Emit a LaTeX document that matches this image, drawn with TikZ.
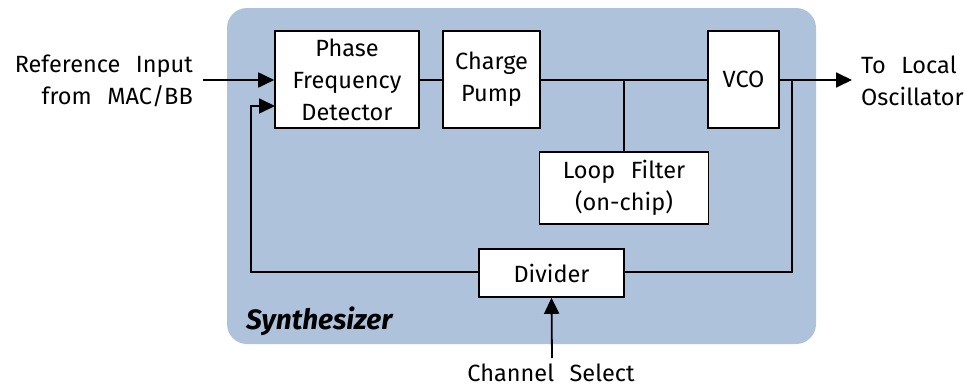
\documentclass[tikz,border=0pt]{standalone}
\usepackage{fontspec}
\setmainfont[WordSpace=2.5]{Fira Sans}
\usetikzlibrary{arrows.meta}
\definecolor{synthblue}{HTML}{AEC2DB}
\tikzset{
  txt/.style={font=\fontsize{23.5}{32}\selectfont},
  blk/.style={txt, draw=black, line width=1.6pt, fill=white, inner sep=0pt, align=center},
  wire/.style={line width=1.8pt},
  arr/.style={wire, -{Triangle[length=16pt,width=15pt]}},
  lbl/.style={txt, inner sep=0pt}
}
\begin{document}
\begin{tikzpicture}[x=1pt,y=-1pt]
\useasboundingbox (0,0) rectangle (967,386);
\node[fill=synthblue, rounded corners=20pt, minimum width=589pt, minimum height=336pt, inner sep=0pt] (syn) at (521.5,176) {};
\node[blk, minimum width=144pt, minimum height=97pt] (pfd) at (347,79.5) {Phase\\Frequency\\Detector};
\node[blk, minimum width=97pt, minimum height=97pt] (cp) at (491.5,79.5) {Charge\\Pump};
\node[blk, minimum width=71pt, minimum height=97pt] (vco) at (743.5,79.5) {VCO};
\node[blk, minimum width=169pt, minimum height=72pt] (lf) at (624,188) {Loop Filter\\(on-chip)};
\node[blk, minimum width=145pt, minimum height=48pt] (div) at (551.5,273) {Divider};
\node[lbl, anchor=base west, font=\fontsize{28}{32}\selectfont\bfseries\itshape] (synlbl) at (246,329) {Synthesizer};
\node[lbl, anchor=east, align=right] (ref) at (193,81) {Reference Input\\from MAC/BB};
\node[lbl, anchor=west, align=left] (lo) at (861,81) {To Local\\Oscillator};
\node[lbl, anchor=base] (ch) at (551,381) {Channel Select};
\coordinate (inl) at (203,80);
\coordinate (outr) at (852,80);
\coordinate (jn) at (624,80);
\coordinate (tap) at (792,80);
\coordinate (fbr) at (792,272);
\coordinate (fbl) at (251,272);
\coordinate (fbt) at (251,106);
\coordinate (pfdin) at (275,106);
\coordinate (chs) at (552,358);
\draw[arr] (inl) -- (pfd.west |- inl);
\draw[wire] (pfd.east |- jn) -- (cp.west |- jn);
\draw[wire] (cp.east |- jn) -- (vco.west |- jn);
\draw[wire] (jn) -- (lf.north -| jn);
\draw[arr] (vco.east |- outr) -- (outr);
\draw[wire] (tap) -- (fbr) -- (div.east |- fbr);
\draw[arr] (div.west |- fbl) -- (fbl) -- (fbt) -- (pfdin);
\draw[arr] (chs) -- (div.south);
\end{tikzpicture}
\end{document}
